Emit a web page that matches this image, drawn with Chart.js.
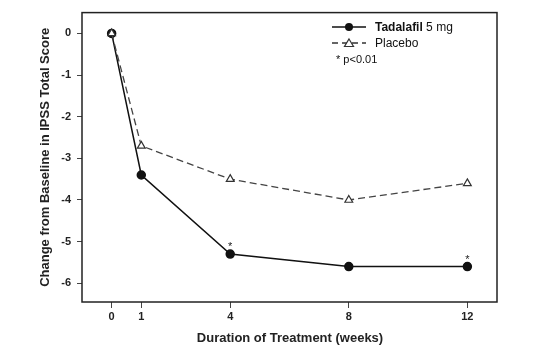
<!DOCTYPE html>
<html>
<head>
<meta charset="utf-8">
<script src="https://cdn.jsdelivr.net/npm/chart.js@4.4.0/dist/chart.umd.min.js"></script>
<style>
  html, body { margin: 0; padding: 0; background: #fff; }
  #wrap { width: 556px; height: 359px; }
</style>
</head>
<body>
<div id="wrap"><canvas id="c" width="556" height="359"></canvas></div>
<script>
// weeks on treatment
const weeks = [0, 1, 4, 8, 12];
// mean change from baseline in IPSS total score
const tadalafil = [0, -3.4, -5.3, -5.6, -5.6];
const placebo = [0, -2.7, -3.5, -4.0, -3.6];
// weeks where tadalafil vs placebo p<0.01
const sigWeeks = [4, 12];
const yTicks = [0, -1, -2, -3, -4, -5, -6];

const FONT = "'Liberation Sans', Arial, sans-serif";

// box around the plot, axis titles, asterisks and the legend
const decor = {
    id: 'decor',
    afterDatasetsDraw(chart) {
        const { ctx, chartArea: a, scales } = chart;
        ctx.save();
        ctx.strokeStyle = '#222';
        ctx.lineWidth = 1.5;
        ctx.strokeRect(a.left, a.top, a.right - a.left, a.bottom - a.top);

        // axis titles
        ctx.fillStyle = '#222';
        ctx.font = 'bold 13px ' + FONT;
        ctx.textAlign = 'center';
        ctx.textBaseline = 'middle';
        ctx.fillText('Duration of Treatment (weeks)', 290, 338);
        ctx.save();
        ctx.translate(45, (a.top + a.bottom) / 2);
        ctx.rotate(-Math.PI / 2);
        ctx.fillText('Change from Baseline in IPSS Total Score', 0, 0);
        ctx.restore();

        // asterisks over significant points
        ctx.font = '11px ' + FONT;
        ctx.textBaseline = 'alphabetic';
        sigWeeks.forEach(w => {
            const i = weeks.indexOf(w);
            const px = scales.x.getPixelForValue(w);
            const py = scales.y.getPixelForValue(tadalafil[i]);
            ctx.fillText('*', px, py - 4);
        });

        // legend
        const lx1 = 332, lx2 = 366, tx = 375;
        ctx.lineWidth = 1.5;
        ctx.strokeStyle = '#111';
        ctx.beginPath(); ctx.moveTo(lx1, 27); ctx.lineTo(lx2, 27); ctx.stroke();
        ctx.fillStyle = '#111';
        ctx.beginPath(); ctx.arc((lx1 + lx2) / 2, 27, 4, 0, Math.PI * 2); ctx.fill();

        ctx.strokeStyle = '#333';
        ctx.setLineDash([6, 4]);
        ctx.beginPath(); ctx.moveTo(lx1, 43); ctx.lineTo(lx2, 43); ctx.stroke();
        ctx.setLineDash([]);
        const cx = (lx1 + lx2) / 2;
        ctx.fillStyle = '#fff';
        ctx.lineWidth = 1.2;
        ctx.beginPath();
        ctx.moveTo(cx, 39); ctx.lineTo(cx + 4.5, 46.5); ctx.lineTo(cx - 4.5, 46.5); ctx.closePath();
        ctx.fill(); ctx.stroke();

        ctx.textAlign = 'left';
        ctx.textBaseline = 'middle';
        ctx.fillStyle = '#111';
        ctx.font = 'bold 12px ' + FONT;
        ctx.fillText('Tadalafil', tx, 28);
        const w1 = ctx.measureText('Tadalafil ').width;
        ctx.font = '12px ' + FONT;
        ctx.fillText('5 mg', tx + w1, 28);
        ctx.fillText('Placebo', tx, 44);
        ctx.font = '11px ' + FONT;
        ctx.fillText('* p<0.01', 336, 60);
        ctx.restore();
    }
};

new Chart(document.getElementById('c'), {
    type: 'line',
    data: {
        datasets: [
            {
                label: 'Placebo',
                data: weeks.map((w, i) => ({ x: w, y: placebo[i] })),
                borderColor: '#444',
                borderWidth: 1.3,
                borderDash: [7, 4],
                pointStyle: 'triangle',
                pointRadius: 4.5,
                pointBackgroundColor: '#fff',
                pointBorderColor: '#333',
                pointBorderWidth: 1.2,
                tension: 0
            },
            {
                label: 'Tadalafil 5 mg',
                data: weeks.map((w, i) => ({ x: w, y: tadalafil[i] })),
                borderColor: '#111',
                borderWidth: 1.5,
                pointStyle: 'circle',
                pointRadius: 4,
                pointBackgroundColor: '#111',
                pointBorderColor: '#111',
                tension: 0
            }
        ]
    },
    options: {
        responsive: false,
        animation: false,
        layout: { padding: { top: 12, right: 59, left: 0, bottom: 0 } },
        plugins: { legend: { display: false }, tooltip: { enabled: false } },
        scales: {
            x: {
                type: 'linear',
                min: -1,
                max: 13,
                afterBuildTicks: s => { s.ticks = weeks.map(v => ({ value: v })); },
                afterFit: s => { s.height = 57; },
                grid: { drawOnChartArea: false, tickLength: 6, color: '#444' },
                border: { display: false },
                ticks: { color: '#222', font: { family: FONT, size: 11, weight: 'bold' }, padding: 2, maxRotation: 0 }
            },
            y: {
                min: -6.45,
                max: 0.5,
                afterBuildTicks: s => { s.ticks = yTicks.map(v => ({ value: v })); },
                afterFit: s => { s.width = 82; },
                grid: { drawOnChartArea: false, tickLength: 5, color: '#444' },
                border: { display: false },
                ticks: { color: '#222', font: { family: FONT, size: 11, weight: 'bold' }, padding: 6 }
            }
        }
    },
    plugins: [decor]
});
</script>
</body>
</html>
